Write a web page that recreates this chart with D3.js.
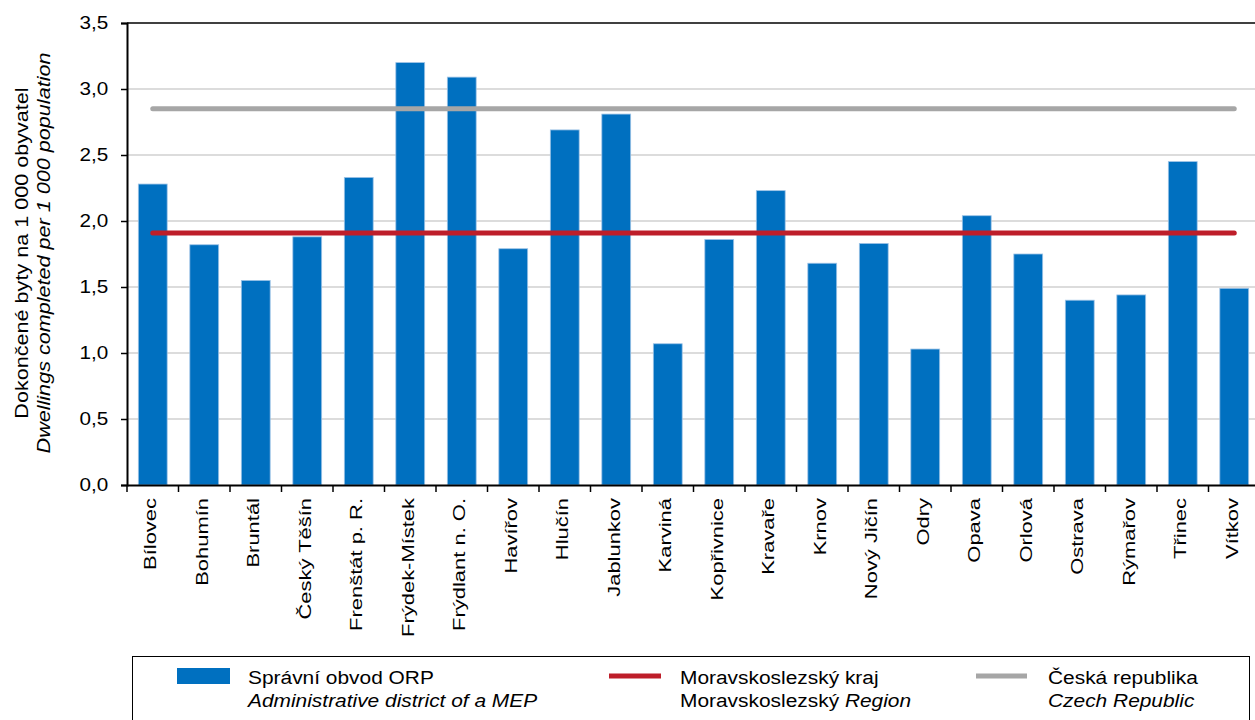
<!DOCTYPE html>
<html><head><meta charset="utf-8">
<script src="https://cdn.jsdelivr.net/npm/d3@7"></script>
<style>
body{margin:0;background:#fff;}
svg{display:block;font-family:"Liberation Sans",Arial,sans-serif;}
</style></head>
<body><svg id="c" width="1255" height="720"></svg>
<script>
const categories = ["Bílovec","Bohumín","Bruntál","Český Těšín","Frenštát p. R.","Frýdek-Místek","Frýdlant n. O.","Havířov","Hlučín","Jablunkov","Karviná","Kopřivnice","Kravaře","Krnov","Nový Jičín","Odry","Opava","Orlová","Ostrava","Rýmařov","Třinec","Vítkov"];
const districtValues = [2.28,1.82,1.55,1.88,2.33,3.20,3.09,1.79,2.69,2.81,1.07,1.86,2.23,1.68,1.83,1.03,2.04,1.75,1.40,1.44,2.45,1.49];
const regionValue = 1.91;
const czechValue = 2.85;
const yTicks = [0,0.5,1,1.5,2,2.5,3,3.5];
const legendLabels = [
  ["Správní obvod ORP","Administrative district of a MEP"],
  ["Moravskoslezský kraj","Moravskoslezský ","Region"],
  ["Česká republika","Czech Republic"]
];

(function(){
const svg = d3.select("#c");
const pL = 127, pR = 1260, pT = 23, pB = 485;
const x = d3.scaleBand().domain(categories).range([pL, pR]).paddingInner(0.44).paddingOuter(0.22);
const xb = d3.scaleBand().domain(categories).range([pL, pR]);
const y = d3.scaleLinear().domain([0,3.5]).range([pB, pT]);
const fmt = d => d3.format(".1f")(d).replace(".", ",");

// gridlines
svg.append("g").selectAll("line").data(yTicks.filter(t => t>0 && t<3.5)).join("line")
  .attr("x1", pL).attr("x2", 1255).attr("y1", d=>y(d)).attr("y2", d=>y(d))
  .attr("stroke", "#d0d0d0").attr("stroke-width", 1.5);

// bars
svg.append("g").selectAll("rect").data(categories).join("rect")
  .attr("x", d => x(d)).attr("width", x.bandwidth())
  .attr("y", (d,i) => y(districtValues[i])).attr("height", (d,i) => y(0)-y(districtValues[i]))
  .attr("fill", "#0070c0").attr("stroke", "#9dc3e6").attr("stroke-width", 0.8);

// reference lines
const x0 = xb(categories[0]) + xb.bandwidth()/2, x1 = xb(categories[categories.length-1]) + xb.bandwidth()/2;
svg.append("line").attr("x1", x0).attr("x2", x1).attr("y1", y(czechValue)).attr("y2", y(czechValue))
  .attr("stroke", "#a6a6a6").attr("stroke-width", 5).attr("stroke-linecap","round");
svg.append("line").attr("x1", x0).attr("x2", x1).attr("y1", y(regionValue)).attr("y2", y(regionValue))
  .attr("stroke", "#be1e2a").attr("stroke-width", 5).attr("stroke-linecap","round");

// top line
svg.append("line").attr("x1", pL).attr("x2", 1255).attr("y1", pT).attr("y2", pT)
  .attr("stroke", "#000").attr("stroke-width", 1.5);

// y axis
const ya = svg.append("g").attr("transform", `translate(${pL},0)`)
  .call(d3.axisLeft(y).tickValues(yTicks).tickFormat(fmt).tickSize(6).tickPadding(10));
ya.select(".domain").attr("stroke","#000").attr("stroke-width",2);
ya.selectAll(".tick line").attr("stroke","#000").attr("stroke-width",1.5);
ya.selectAll("text").attr("font-size", 17.7).attr("fill","#000")
  .attr("font-family","Liberation Sans, Arial, sans-serif").attr("transform","scale(1.17,1)");

// x axis
const xa = svg.append("g").attr("transform", `translate(0,${pB})`)
  .call(d3.axisBottom(xb).tickSize(0).tickFormat(""));
xa.select(".domain").attr("stroke","#000").attr("stroke-width",2);
svg.append("g").selectAll("line").data(d3.range(categories.length+1)).join("line")
  .attr("x1", i => pL + i*xb.step()).attr("x2", i => pL + i*xb.step())
  .attr("y1", pB).attr("y2", pB+7).attr("stroke","#000").attr("stroke-width",1.5);
svg.append("g").selectAll("text").data(categories).join("text")
  .attr("transform", d => `translate(${xb(d)+xb.bandwidth()/2+3.5},${pB+13}) rotate(-90) scale(1.33,1)`)
  .attr("text-anchor","end").attr("font-size", 16.5).attr("fill","#000").text(d=>d);

// y label
const yl = svg.append("text").attr("transform","translate(0,253) rotate(-90) scale(1.2,1)").attr("text-anchor","middle").attr("font-size",18).attr("fill","#000");
yl.append("tspan").attr("x",0).attr("y",28).text("Dokončené byty na 1 000 obyvatel");
yl.append("tspan").attr("x",0).attr("y",50).attr("font-style","italic").text("Dwellings completed per 1 000 population");

// legend
const lg = svg.append("g");
lg.append("rect").attr("x",132.5).attr("y",656.5).attr("width",1117).attr("height",80)
  .attr("fill","none").attr("stroke","#000").attr("stroke-width",1);
lg.append("rect").attr("x",177).attr("y",668).attr("width",53).attr("height",16).attr("fill","#0070c0");
lg.append("line").attr("x1",609).attr("x2",661).attr("y1",676).attr("y2",676).attr("stroke","#be1e2a").attr("stroke-width",5);
lg.append("line").attr("x1",976).attr("x2",1027).attr("y1",676).attr("y2",676).attr("stroke","#a6a6a6").attr("stroke-width",5);
function legText(x0){
  return lg.append("text").attr("font-size",19).attr("fill","#000")
    .attr("transform",`translate(${x0},0) scale(1.1,1)`);
}
const t1 = legText(248);
t1.append("tspan").attr("x",0).attr("y",684).text(legendLabels[0][0]);
t1.append("tspan").attr("x",0).attr("y",707).attr("font-style","italic").text(legendLabels[0][1]);
const t2 = legText(680);
t2.append("tspan").attr("x",0).attr("y",684).text(legendLabels[1][0]);
t2.append("tspan").attr("x",0).attr("y",707).text(legendLabels[1][1]);
t2.append("tspan").attr("font-style","italic").text(legendLabels[1][2]);
const t3 = legText(1048);
t3.append("tspan").attr("x",0).attr("y",684).text(legendLabels[2][0]);
t3.append("tspan").attr("x",0).attr("y",707).attr("font-style","italic").text(legendLabels[2][1]);
})();
</script></body></html>
